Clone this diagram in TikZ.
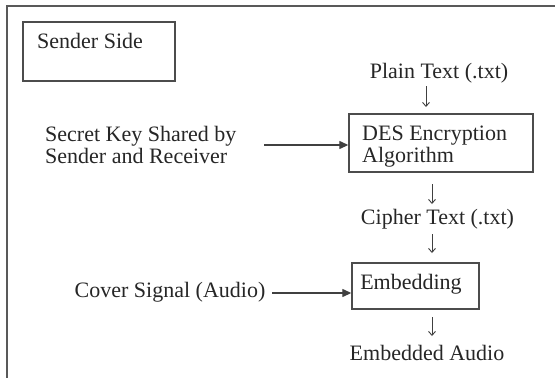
\documentclass[tikz,border=0pt]{standalone}
\usepackage{fontspec}
\setmainfont{Liberation Serif}
\usetikzlibrary{arrows.meta}
\begin{document}
\begin{tikzpicture}[x=1pt,y=-1pt,
  every node/.style={font=\fontsize{22}{22}\selectfont, text=black!85, inner sep=0pt},
  box/.style={draw=black!70, line width=1.4pt},
  harrow/.style={draw=black!75, line width=1.3pt, -{Triangle[length=9pt,width=8pt]}},
  varrow/.style={draw=black!75, line width=0.9pt, -{Straight Barb[length=4pt,width=7pt]}}]
\useasboundingbox (0,0) rectangle (555,378);
% outer frame
\draw[draw=black!65, line width=2.2pt] (7,378) -- (7,6) -- (555,6);
% sender side box
\node[box, minimum width=152pt, minimum height=59pt] (sbox) at (99,51.5) {};
\node[anchor=west] (stext) at (37,41) {Sender Side};
% plain text
\node (plain) at (439,73) {Plain Text (.txt)};
\coordinate (a1s) at (426,86);
\coordinate (a1e) at (426,107);
\draw[varrow] (a1s) -- (a1e);
% DES box
\node[box, minimum width=184pt, minimum height=58pt] (des) at (441,143) {};
\node[align=left, anchor=west] (destext) at (362,147) {DES Encryption\\Algorithm};
% secret key
\node[align=left, anchor=west] (key) at (45,145) {Secret Key Shared by\\Sender and Receiver};
\coordinate (keyend) at (264,145);
\draw[harrow] (keyend) -- (keyend -| des.west);
% cipher text
\coordinate (a2s) at (432,184);
\coordinate (a2e) at (432,204);
\draw[varrow] (a2s) -- (a2e);
\node (cipher) at (437.5,219) {Cipher Text (.txt)};
\coordinate (a3s) at (432,234);
\coordinate (a3e) at (432,253);
\draw[varrow] (a3s) -- (a3e);
% embedding box
\node[box, minimum width=127pt, minimum height=46pt] (emb) at (415.5,286) {};
\node (embtext) at (411,284) {Embedding};
% cover signal
\node (cover) at (170,292) {Cover Signal (Audio)};
\coordinate (covend) at (272,293);
\draw[harrow] (covend) -- (covend -| emb.west);
% embedded audio
\coordinate (a4s) at (432,317);
\coordinate (a4e) at (432,336);
\draw[varrow] (a4s) -- (a4e);
\node (embaudio) at (427,353) {Embedded Audio};
\end{tikzpicture}
\end{document}
